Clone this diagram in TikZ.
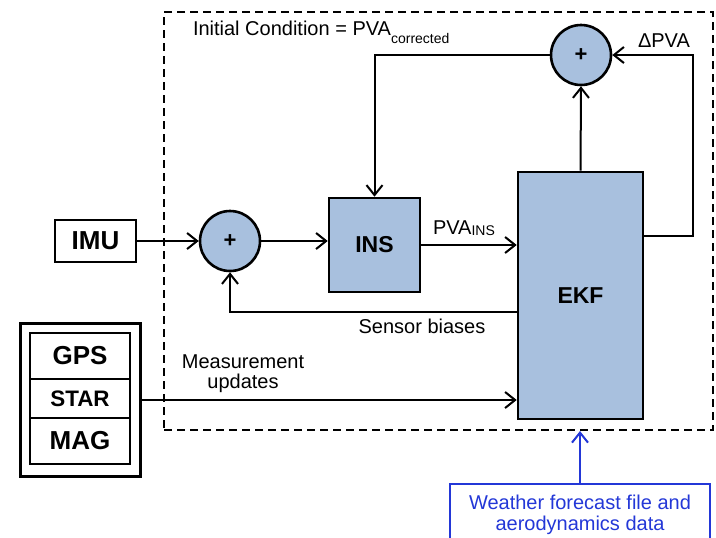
\documentclass[tikz,border=0pt]{standalone}
\usepackage{fontspec}
\setmainfont{Liberation Sans}
\usetikzlibrary{arrows.meta}

\definecolor{blockfill}{RGB}{168,192,222}
\definecolor{noteblue}{RGB}{35,55,215}

\begin{document}
\begin{tikzpicture}[x=0.5pt,y=-0.5pt,
    line width=1pt,
    >={Straight Barb[length=5pt,width=8pt]},
    block/.style={draw,line width=1.3pt,fill=blockfill,inner sep=0pt,
      font=\fontsize{11.5}{13}\selectfont\bfseries},
    sensor/.style={draw,line width=1.3pt,inner sep=0pt,minimum width=50pt,
      font=\fontsize{13}{15}\selectfont\bfseries},
    sum/.style={circle,draw,line width=1.3pt,fill=blockfill,minimum size=30pt,
      inner sep=0pt,font=\fontsize{11}{13}\selectfont\bfseries},
    lbl/.style={inner sep=0pt,font=\fontsize{10}{10}\selectfont}]
  \useasboundingbox (0,0) rectangle (716,537);
  \clip (0,0) rectangle (716,537);
  % Filter boundary
  \node[draw,dash pattern=on 4pt off 2.5pt,inner sep=0pt,
    minimum width=274.5pt,minimum height=209pt] (filter) at (438.5,221) {};
  % Blocks
  \node[sensor,minimum width=40.5pt,minimum height=21pt] (imu) at (95.5,241) {IMU};
  \node[sum] (sum1) at (230,241) {+};
  \node[block,minimum width=45.5pt,minimum height=47pt] (ins) at (374.5,245) {INS};
  \node[block,minimum width=62.5pt,minimum height=123.5pt] (ekf) at (580.5,295.5) {EKF};
  \node[sum] (sum2) at (581,55) {+};
  % Aiding sensors
  \node[draw,line width=1.2pt,minimum width=60pt,minimum height=76.5pt] (sens) at (80.5,400) {};
  \node[sensor,minimum height=23pt] (gps) at (80,356) {GPS};
  \node[sensor,minimum height=19.5pt,font=\fontsize{11.2}{13}\selectfont\bfseries] (star) at (80,398.5) {STAR};
  \node[sensor,minimum height=23pt] (mag) at (80,441) {MAG};
  % External data
  \node[draw=noteblue,text=noteblue,line width=1pt,minimum width=130pt,minimum height=31pt,
    align=center,font=\fontsize{10}{10.5}\selectfont] (wx) at (580,515)
    {Weather forecast file and\\aerodynamics data};
  % Signal flow
  \draw[->] (imu) -- (sum1);
  \draw[->] (sum1.east) -- (sum1.east -| ins.west);
  \draw[->] (ins.east) -- (ins.east -| ekf.west);
  \draw[->] (ekf.north) -- (sum2.south);
  \draw[->] ([yshift=30pt]ekf.east) -- ++(49,0) |- (sum2.east);
  \draw[->] (sum2.west) -| (ins.north);
  \draw[->] ([yshift=-8pt]ekf.west) -| (sum1.south);
  \draw[->] (sens.east) -- (sens.east -| ekf.west);
  \draw[->,noteblue] (wx.north) -- (wx.north |- filter.south);
  % Labels
  \node[lbl,anchor=base west] (ic) at (192,35)
    {Initial Condition = PVA{\fontsize{7}{8}\selectfont\raisebox{-4pt}{corrected}}};
  \node[lbl,anchor=base west] (dpva) at (637,47) {ΔPVA};
  \node[lbl,anchor=base west] (pvains) at (432,234)
    {PVA{\fontsize{7}{8}\selectfont\raisebox{-0.5pt}{INS}}};
  \node[lbl,anchor=base] (bias) at (422,333) {Sensor biases};
  \node[lbl,align=center,anchor=south] (meas) at (243,394) {Measurement\\updates};
\end{tikzpicture}
\end{document}
